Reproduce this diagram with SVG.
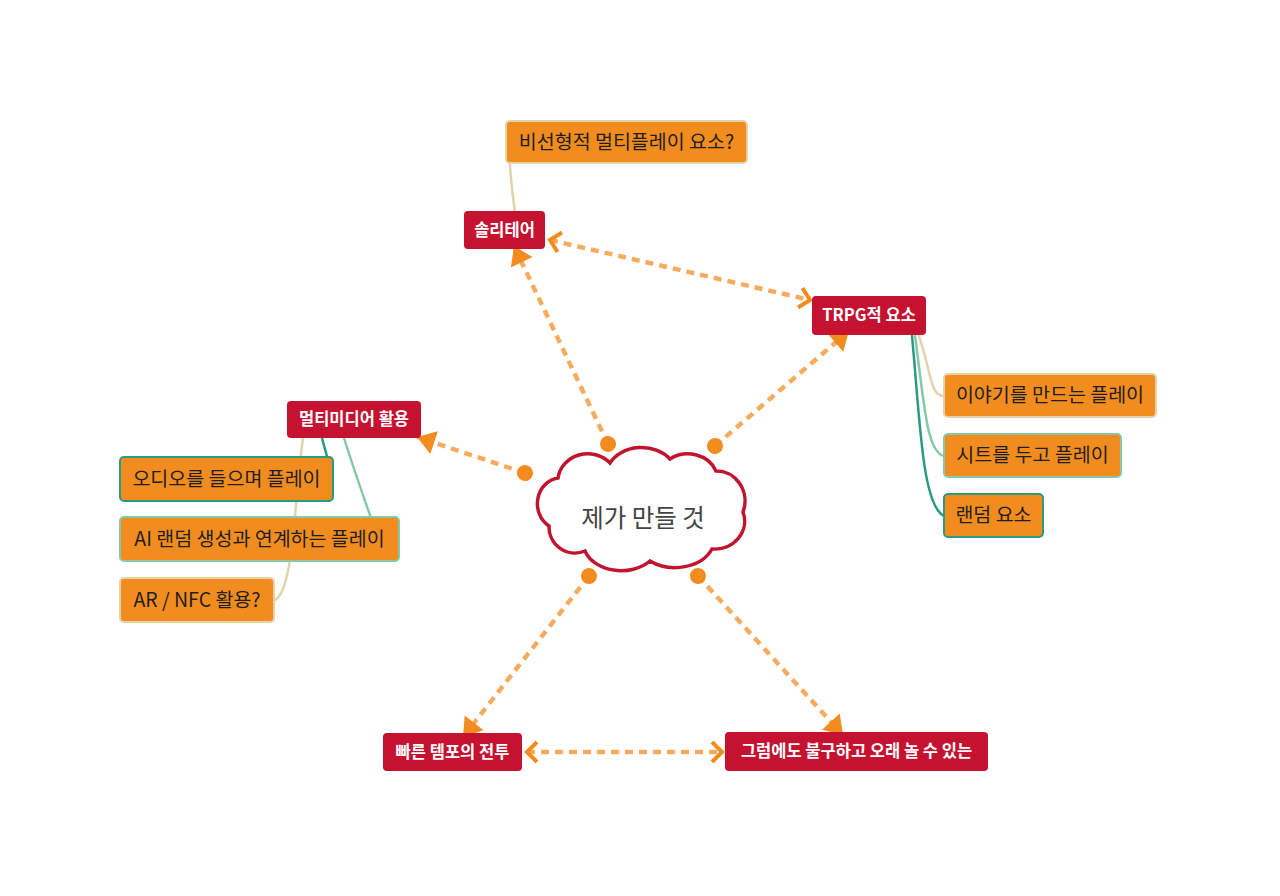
<svg xmlns="http://www.w3.org/2000/svg" width="1280" height="896" viewBox="0 0 1280 896">
<style>
.red rect{fill:#c41230;}
.red text{fill:#ffffff;font-family:"Noto Sans CJK KR","Noto Sans",sans-serif;font-weight:bold;font-size:16.5px;text-anchor:middle;}
.sub rect{fill:#f28c1e;stroke-width:2;}
.sub text{fill:#1e1e1e;font-family:"Noto Sans CJK KR","Noto Sans",sans-serif;font-size:19.5px;text-anchor:middle;}
.beige{stroke:#e2d3ad;}
.lteal{stroke:#86c9a8;}
.dteal{stroke:#2a9b80;}
.dash{fill:none;stroke:#f7ab5f;stroke-width:4.5;stroke-dasharray:8 6;}
.tree{fill:none;stroke-width:2.5;stroke-linecap:round;}
</style>
<defs>
<marker id="tri" markerUnits="userSpaceOnUse" orient="auto" refX="0" refY="0" markerWidth="40" markerHeight="40" overflow="visible">
<path d="M 0 0 L -18 -12 L -18 12 Z" fill="#f28c1e"/>
</marker>
<marker id="dot" markerUnits="userSpaceOnUse" orient="auto" refX="0" refY="0" markerWidth="20" markerHeight="20" overflow="visible">
<circle cx="0" cy="0" r="8" fill="#f28c1e"/>
</marker>
<marker id="chev" markerUnits="userSpaceOnUse" orient="auto-start-reverse" refX="0" refY="0" markerWidth="30" markerHeight="30" overflow="visible">
<path d="M -10 -10 L 0 0 L -10 10" fill="none" stroke="#f28c1e" stroke-width="4"/>
</marker>
</defs>
<rect width="1280" height="896" fill="#ffffff"/>
<g id="connectors">
<path class="tree beige" d="M 515 212 C 512 190, 510 175, 510 162"/>
<path class="tree dteal" d="M 912 336 C 920 420, 922 505, 944 516"/>
<path class="tree lteal" d="M 915 336 C 924 400, 926 452, 944 456"/>
<path class="tree beige" d="M 919 336 C 932 375, 930 396, 944 396"/>
<path class="tree beige" d="M 303 438 C 294 500, 294 590, 275 600"/>
<path class="tree dteal" d="M 322 438 C 324 446, 326 452, 327 457"/>
<path class="tree lteal" d="M 344 438 C 354 470, 364 498, 371 518"/>
<path class="dash" d="M 608 444 L 514 246" marker-start="url(#dot)" marker-end="url(#tri)"/>
<path class="dash" d="M 715 446 L 849 331" marker-start="url(#dot)" marker-end="url(#tri)"/>
<path class="dash" d="M 525 473 L 417 437" marker-start="url(#dot)" marker-end="url(#tri)"/>
<path class="dash" d="M 589 576 L 463 737" marker-start="url(#dot)" marker-end="url(#tri)"/>
<path class="dash" d="M 698 576 L 843 735" marker-start="url(#dot)" marker-end="url(#tri)"/>
<path class="dash" d="M 550 240 L 810 300" marker-start="url(#chev)" marker-end="url(#chev)"/>
<path class="dash" d="M 527 752 L 722 752" marker-start="url(#chev)" marker-end="url(#chev)"/>
</g>
<g id="center">
<path d="M 558 478 A 30 28 0 0 1 610 463 A 36 30 0 0 1 670 459 A 30 26 0 0 1 716 471 A 28 30 0 0 1 743 512 A 30 28 0 0 1 712 549 A 40 30 0 0 1 650 561 A 38 28 0 0 1 585 551 A 26 26 0 0 1 549 526 A 24 26 0 0 1 558 478 Z" fill="#ffffff" stroke="#c0142f" stroke-width="3.5"/>
<text x="643" y="527" font-family="'Noto Sans CJK KR','Noto Sans',sans-serif" font-size="24.5" fill="#444444" text-anchor="middle">제가 만들 것</text>
</g>
<g id="n-nonlinear" class="sub"><rect class="beige" x="506" y="121" width="241" height="42" rx="4"/><text x="626.5" y="149">비선형적 멀티플레이 요소?</text></g>
<g id="n-solitaire" class="red"><rect x="464" y="211" width="81" height="38" rx="4"/><text x="504.5" y="236">솔리테어</text></g>
<g id="n-trpg" class="red"><rect x="812" y="296" width="114" height="39" rx="4"/><text x="869" y="321">TRPG적 요소</text></g>
<g id="n-story" class="sub"><rect class="beige" x="944" y="374" width="212" height="43" rx="4"/><text x="1050" y="402">이야기를 만드는 플레이</text></g>
<g id="n-sheet" class="sub"><rect class="lteal" x="944" y="434" width="177" height="43" rx="4"/><text x="1032.5" y="462">시트를 두고 플레이</text></g>
<g id="n-random" class="sub"><rect class="dteal" x="944" y="494" width="99" height="43" rx="4"/><text x="993.5" y="522">랜덤 요소</text></g>
<g id="n-multimedia" class="red"><rect x="287" y="401" width="134" height="37" rx="4"/><text x="354" y="425">멀티미디어 활용</text></g>
<g id="n-audio" class="sub"><rect class="dteal" x="120" y="457" width="213" height="44" rx="4"/><text x="226.5" y="486">오디오를 들으며 플레이</text></g>
<g id="n-ai" class="sub"><rect class="lteal" x="120" y="517" width="279" height="44" rx="4"/><text x="259.5" y="546">AI 랜덤 생성과 연계하는 플레이</text></g>
<g id="n-ar" class="sub"><rect class="beige" x="120" y="578" width="154" height="44" rx="4"/><text x="197" y="607">AR / NFC 활용?</text></g>
<g id="n-tempo" class="red"><rect x="383" y="733" width="139" height="38" rx="4"/><text x="452.5" y="758">빠른 템포의 전투</text></g>
<g id="n-long" class="red"><rect x="725" y="732" width="263" height="39" rx="4"/><text x="856.5" y="757">그럼에도 불구하고 오래 놀 수 있는</text></g>
</svg>
